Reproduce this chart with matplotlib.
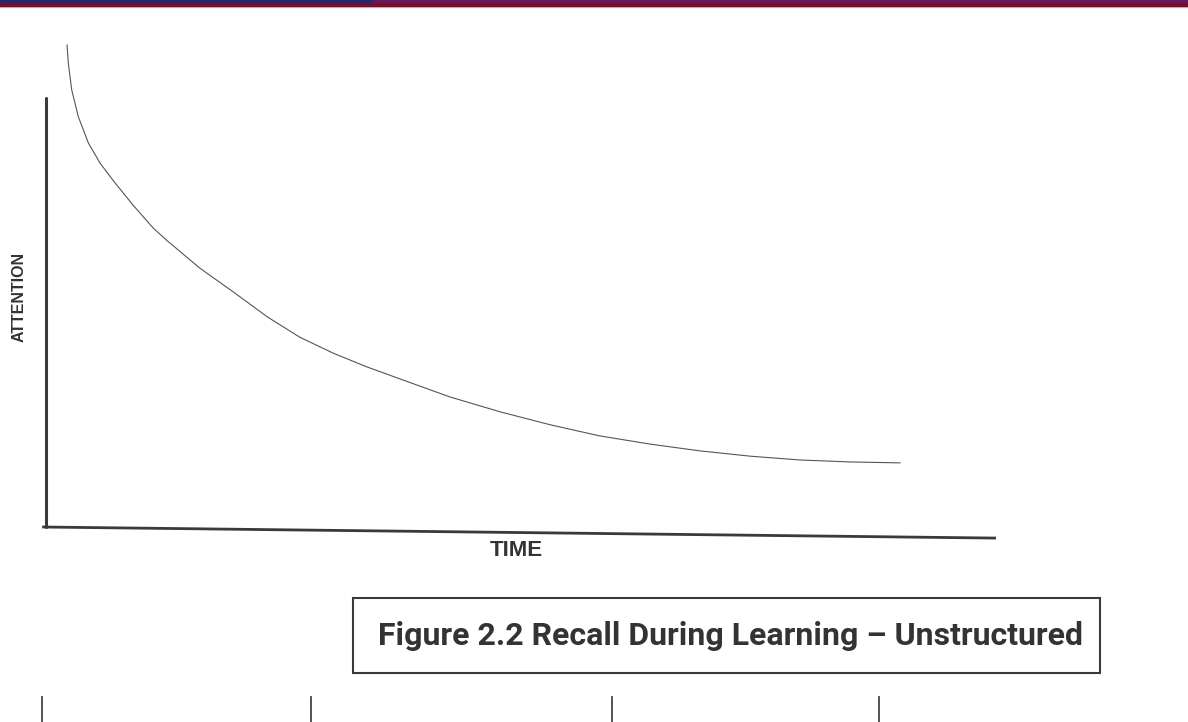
"""
Attention vs time curve (Figure 2.2, recall during learning, unstructured).
"""

import matplotlib.pyplot as plt
from matplotlib.patches import Rectangle
from matplotlib.lines import Line2D

W, H = 1188, 722

# --- curve (time 0-100, attention 0-100) ---
time_pts = [2.32, 2.45, 2.81, 3.51, 4.56, 5.79, 7.37, 9.26, 11.4, 12.8,
            16.3, 19.8, 23.4, 26.8, 30.3, 33.9, 37.4, 42.6, 47.9, 53.2,
            58.4, 63.7, 68.9, 74.2, 79.5, 84.7, 90.0]
attention = [100.0, 96.3, 90.7, 85.1, 79.7, 75.5, 71.4, 66.8, 62.0, 59.5,
             53.7, 48.8, 43.6, 39.4, 36.1, 33.2, 30.7, 27.0, 23.9, 21.2,
             18.9, 17.2, 15.8, 14.7, 13.9, 13.5, 13.3]

x_label = "TIME"
y_label = "ATTENTION"
caption = "Figure 2.2 Recall During Learning \u2013 Unstructured"
section_ticks = [42, 311, 612, 879]   # page dividers along the bottom edge (px)


def fx(px):
    return px / W


def fy(py):
    return 1 - py / H


fig = plt.figure(figsize=(W / 100, H / 100), dpi=100)

# header band
fig.patches.append(Rectangle((0, fy(7)), 1, 1 - fy(7), transform=fig.transFigure,
                             color="#e9c6cc", zorder=1))
fig.patches.append(Rectangle((0, fy(6)), 1, 1 - fy(6), transform=fig.transFigure,
                             color="#7a0b2e", zorder=2))
fig.patches.append(Rectangle((0, fy(2)), fx(373), 1 - fy(2), transform=fig.transFigure,
                             color="#1d2a6e", zorder=3))
fig.patches.append(Rectangle((fx(373), fy(2)), 1 - fx(373), 1 - fy(2),
                             transform=fig.transFigure, color="#5e1a5c", zorder=3))

# chart area: x 45..995 px, y 45..527 px
ax = fig.add_axes([fx(45), fy(527), fx(995) - fx(45), fy(45) - fy(527)])
ax.set_xlim(0, 100)
ax.set_ylim(0, 100)
ax.axis("off")

ax.plot(time_pts, attention, color="#555555", lw=0.8, clip_on=False)

# hand-drawn looking axes
ax.plot([0.1, 0.1], [0, 89], color="#3a3a3a", lw=2.2, clip_on=False,
        solid_capstyle="round")
ax.plot([-0.3, 100.1], [0, -2.3], color="#3a3a3a", lw=2.0, clip_on=False,
        solid_capstyle="butt")

fig.text(fx(516), fy(550), x_label, ha="center", va="center",
         fontsize=16, fontweight="bold", color="#333333",
         family=["Liberation Sans", "DejaVu Sans"])
fig.text(fx(19), fy(297), y_label, ha="center", va="center", rotation=90,
         fontsize=11.5, fontweight="bold", color="#333333",
         family=["Liberation Sans", "DejaVu Sans"])

# caption box
fig.patches.append(Rectangle((fx(353), fy(673)), fx(1100) - fx(353), fy(598) - fy(673),
                             transform=fig.transFigure, fill=False,
                             edgecolor="#3a3a3a", lw=1.5, zorder=4))
fig.text(fx(378), fy(645), caption, ha="left", va="baseline",
         fontsize=23, fontweight="bold", color="#333333",
         family=["Liberation Sans Narrow", "Roboto", "DejaVu Sans"])

for tx in section_ticks:
    fig.lines.append(Line2D([fx(tx), fx(tx)], [fy(697), fy(722)],
                            transform=fig.transFigure, color="#444444", lw=1.3))

fig.savefig("out.png", dpi=100, facecolor="white")
